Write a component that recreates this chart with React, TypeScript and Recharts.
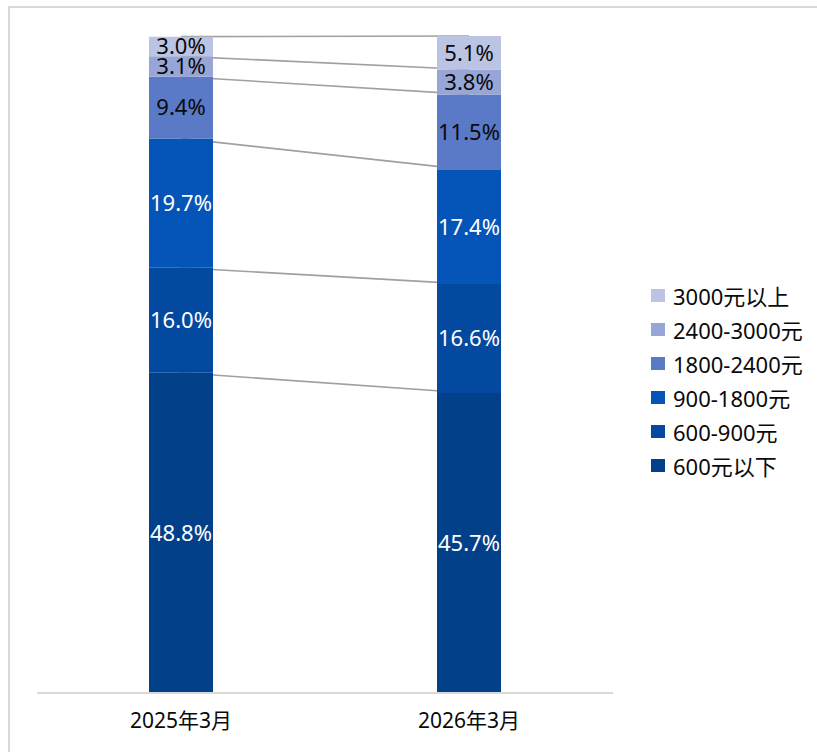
import React from 'react';
import { ComposedChart, Bar, XAxis, YAxis, ReferenceLine, LabelList } from 'recharts';

const categories = ['2025年3月', '2026年3月'];
const seriesNames = ['600元以下', '600-900元', '900-1800元', '1800-2400元', '2400-3000元', '3000元以上'];
const values2025 = [48.8, 16.0, 19.7, 9.4, 3.1, 3.0];
const values2026 = [45.7, 16.6, 17.4, 11.5, 3.8, 5.1];
const colors = ['#02408a', '#0349a0', '#0455b7', '#5a79c6', '#97a6d6', '#bcc4e3'];
const labelColors = ['#ffffff', '#ffffff', '#ffffff', '#0a0a0a', '#0a0a0a', '#0a0a0a'];

const FONT = "'Noto Sans', 'Noto Sans CJK SC', sans-serif";

const seriesValues = [values2025, values2026];

const data = categories.map((name, i) => {
  const row: Record<string, string | number> = { name };
  seriesNames.forEach((_, k) => {
    row['s' + k] = seriesValues[i][k];
  });
  return row;
});

// running totals, used for the connector lines between the two bars
const cumulative = (vals: number[]) => {
  let sum = 0;
  return vals.map((v) => (sum += v));
};
const cum2025 = cumulative(values2025);
const cum2026 = cumulative(values2026);

const fmt = (v: any) => `${Number(v).toFixed(1)}%`;

const Legend = () => (
  <div style={{ position: 'absolute', left: 651, top: 278, fontFamily: FONT, fontSize: 22, color: '#0a0a0a' }}>
    {seriesNames
      .map((name, k) => ({ name, k }))
      .reverse()
      .map(({ name, k }) => (
        <div key={name} style={{ display: 'flex', alignItems: 'center', height: 34 }}>
          <span style={{ width: 14, height: 13, background: colors[k], display: 'inline-block', marginRight: 8 }} />
          <span>{name}</span>
        </div>
      ))}
  </div>
);

export default function App() {
  return (
    <div style={{ position: 'fixed', left: 0, top: 0, width: 817, height: 752, overflow: 'hidden', background: '#fff' }}>
      <ComposedChart
        width={817}
        height={752}
        data={data}
        margin={{ top: 36, right: 204, bottom: 19, left: 37 }}
        style={{ position: 'absolute', left: 0, top: 0 }}
      >
        <XAxis
          dataKey="name"
          axisLine={{ stroke: '#d9d9d9', strokeWidth: 2 }}
          tickLine={false}
          tickMargin={14}
          height={40}
          tick={{ fill: '#0a0a0a', fontSize: 21, fontFamily: FONT }}
        />
        <YAxis hide domain={[0, 'dataMax']} />
        {cum2025.map((v, k) => (
          <ReferenceLine
            key={'line' + k}
            segment={[
              { x: categories[0], y: v },
              { x: categories[1], y: cum2026[k] },
            ]}
            stroke="#a0a0a0"
            strokeWidth={1.6}
            ifOverflow="visible"
            zIndex={250}
          />
        ))}
        {seriesNames.map((name, k) => (
          <Bar
            key={name}
            dataKey={'s' + k}
            name={name}
            stackId="a"
            fill={colors[k]}
            barSize={64}
            isAnimationActive={false}
          >
            <LabelList
              dataKey={'s' + k}
              position="center"
              formatter={fmt}
              fill={labelColors[k]}
              fontSize={22}
              fontFamily={FONT}
            />
          </Bar>
        ))}
      </ComposedChart>
      <Legend />
      <div
        style={{
          position: 'absolute',
          left: 8,
          top: 6,
          width: 840,
          height: 780,
          border: '2px solid #d9d9d9',
          pointerEvents: 'none',
        }}
      />
    </div>
  );
}
